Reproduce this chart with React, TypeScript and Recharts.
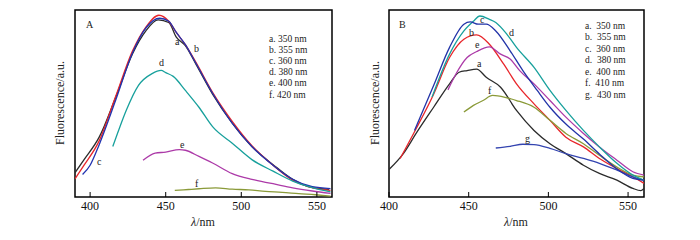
import { LineChart, Line, XAxis, YAxis, ReferenceArea } from "recharts";

// excitation wavelengths (legend)
const legendA = ["a. 350 nm", "b. 355 nm", "c. 360 nm", "d. 380 nm", "e. 400 nm", "f. 420 nm"];
const legendB = ["a.  350 nm", "b.  355 nm", "c.  360 nm", "d.  380 nm", "e.  400 nm", "f.  410 nm", "g.  430 nm"];
const ticks = [400, 450, 500, 550];

// panel A, emission wavelength (nm) and intensity (a.u.)
const aA_nm = [390, 396, 406, 417, 428, 437, 445, 452, 457, 463, 470, 481, 494, 507, 521, 534, 547, 558];
const aA_v = [13, 20, 32, 53.5, 76.5, 89, 94.7, 93.3, 85.5, 81, 71, 55, 39.5, 27, 17.3, 9.4, 5, 4.1];
const bA_nm = [390, 396, 406, 417, 428, 437, 445.5, 452, 457, 463, 470, 481, 494, 507, 521, 534, 547, 559];
const bA_v = [9.7, 17, 30, 54, 78, 91, 97.2, 94, 88, 81.5, 72, 56, 40.5, 27.5, 17, 9, 5, 3.5];
const cA_nm = [395, 400, 406, 417, 428, 437, 446, 452, 457, 463, 470, 481, 494, 507, 521, 534, 547, 559];
const cA_v = [12, 17, 28, 52, 77, 90.5, 95.6, 94, 88, 81.5, 71.5, 55.5, 39.5, 27, 17, 9.5, 5.5, 4.5];
const dA_nm = [415, 419, 424, 432, 441, 447, 450, 455, 463, 472, 481, 494, 507, 521, 534, 547, 559];
const dA_v = [27, 36, 46.5, 59.7, 66, 67.7, 66.5, 64.5, 57, 48, 37.6, 28.8, 20, 13.8, 8.5, 5, 2.7];
const eA_nm = [435, 443, 450, 459, 463, 472, 481, 494, 507, 521, 534, 547, 559];
const eA_v = [19.6, 23.5, 24, 25.3, 25, 21.7, 18.2, 12.5, 9.4, 7.1, 4.9, 3.2, 1.9];
const fA_nm = [456, 465, 472, 483, 494, 505, 516, 527, 538, 549, 559];
const fA_v = [3.5, 4, 4.4, 4.9, 4.2, 3.8, 3, 2.5, 1.8, 1.2, 0.5];

// panel B
const aB_nm = [400, 409, 417, 428, 438, 444, 449, 455, 461, 470, 480, 491, 501, 511, 522, 532, 543, 553, 558, 560];
const aB_v = [14.7, 23.2, 34, 48, 60.5, 66.7, 67.6, 68.4, 64, 58.7, 46.3, 35.6, 28.5, 23.2, 17, 12.6, 9, 4.6, 3.4, 4.5];
const bB_nm = [407, 417, 428, 438, 447, 455, 463, 472, 480, 491, 501, 511, 522, 532, 543, 553, 560];
const bB_v = [20.6, 36.5, 55, 74.6, 84.4, 86.7, 81.7, 71, 60.5, 49.8, 41, 32, 26.8, 20.6, 15.2, 10.8, 7.3];
const cB_nm = [416, 428, 438, 447, 451, 456, 461, 467, 476, 484, 493, 501, 511, 522, 532, 543, 553, 560];
const cB_v = [35.6, 59.6, 80, 92.4, 93.6, 92.4, 92.4, 88.8, 78.2, 67.6, 57, 48, 39, 31, 23, 15, 10, 9];
const dB_nm = [427, 438, 447, 453, 457, 463, 467, 474, 480, 491, 501, 511, 522, 532, 543, 553, 560];
const dB_v = [53.4, 76.4, 88.8, 94, 96.8, 95, 93.3, 87, 80, 69.3, 57, 46.3, 35.6, 26.8, 18, 11.7, 9];
const eB_nm = [437, 442, 449, 455, 463, 470, 476, 482, 491, 501, 511, 522, 532, 543, 553, 560];
const eB_v = [57.3, 65.8, 74.6, 77.8, 80.3, 76.4, 73.8, 67.6, 60.5, 51.6, 42.7, 34, 26.8, 19.7, 13.5, 11.7];
const fB_nm = [447, 453, 459, 465, 474, 480, 491, 501, 511, 522, 532, 543, 553, 560];
const fB_v = [45.4, 49, 51.6, 54.3, 53, 51.6, 48, 41, 34, 28.5, 22.3, 16, 11.7, 10.8];
const gB_nm = [467, 476, 484, 491, 501, 511, 522, 532, 543, 553, 560];
const gB_v = [26.2, 27.1, 28.2, 28, 26, 23.2, 20.6, 18, 14.4, 10.8, 9];

const zip = (nm: number[], v: number[]) => nm.map((x, i) => ({ nm: x, v: v[i] }));

const serif = "Liberation Serif, DejaVu Serif, serif";

const seriesA = [
  { id: "a", data: zip(aA_nm, aA_v), color: "#2b2b2b" },
  { id: "b", data: zip(bA_nm, bA_v), color: "#e8262b" },
  { id: "c", data: zip(cA_nm, cA_v), color: "#2233b0" },
  { id: "d", data: zip(dA_nm, dA_v), color: "#17a09c" },
  { id: "e", data: zip(eA_nm, eA_v), color: "#ac3aa8" },
  { id: "f", data: zip(fA_nm, fA_v), color: "#8a9a38" },
];
const seriesB = [
  { id: "a", data: zip(aB_nm, aB_v), color: "#2b2b2b" },
  { id: "b", data: zip(bB_nm, bB_v), color: "#e8262b" },
  { id: "f", data: zip(fB_nm, fB_v), color: "#8a9a38" },
  { id: "g", data: zip(gB_nm, gB_v), color: "#3344b0" },
  { id: "e", data: zip(eB_nm, eB_v), color: "#ac3aa8" },
  { id: "d", data: zip(dB_nm, dB_v), color: "#17a09c" },
  { id: "c", data: zip(cB_nm, cB_v), color: "#2233a8" },
];

// tick label plus a short inward tick mark
function InTick(props: any) {
  const { x, y, payload } = props;
  return (
    <g>
      <line x1={x} y1={y - 4} x2={x} y2={y - 9} stroke="#000" strokeWidth={1} />
      <text x={x} y={y} dy="0.71em" textAnchor="middle" fontSize={12} fontFamily={serif} fill="#111">
        {payload.value}
      </text>
    </g>
  );
}

function Panel({ series, domain, margin }: any) {
  return (
    <LineChart width={350} height={240} margin={margin}>
      <XAxis
        dataKey="nm"
        type="number"
        domain={domain}
        ticks={ticks}
        allowDataOverflow
        height={30}
        axisLine={false}
        tickLine={false}
        tickSize={0}
        tickMargin={4}
        tick={<InTick />}
      />
      <YAxis yAxisId="l" domain={[0, 100]} width={0} hide />
      <ReferenceArea
        yAxisId="l"
        x1={domain[0]}
        x2={domain[1]}
        y1={0}
        y2={100}
        fill="none"
        stroke="#000"
        strokeWidth={1.5}
        ifOverflow="visible"
      />
      {series.map((s: any) => (
        <Line
          key={s.id}
          yAxisId="l"
          data={s.data}
          dataKey="v"
          type="monotone"
          stroke={s.color}
          strokeWidth={1.3}
          dot={false}
          isAnimationActive={false}
        />
      ))}
    </LineChart>
  );
}

const txt = { fontFamily: serif, fill: "#222" };

export default function App() {
  return (
    <div style={{ position: "absolute", left: 0, top: 0, width: 700, height: 240, background: "#fff" }}>
      <div style={{ position: "absolute", left: 0, top: 0 }}>
        <Panel series={seriesA} domain={[390, 560]} margin={{ top: 10, right: 18, left: 75, bottom: 13 }} />
      </div>
      <div style={{ position: "absolute", left: 350, top: 0 }}>
        <Panel series={seriesB} domain={[400, 560]} margin={{ top: 10, right: 56, left: 39, bottom: 13 }} />
      </div>
      <svg width={700} height={240} style={{ position: "absolute", left: 0, top: 0, pointerEvents: "none" }}>
        {/* axis titles */}
        <text x={64} y={103} transform="rotate(-90 64 103)" textAnchor="middle" fontSize={12} {...txt}>Fluorescence/a.u.</text>
        <text x={379} y={103} transform="rotate(-90 379 103)" textAnchor="middle" fontSize={12} {...txt}>Fluorescence/a.u.</text>
        <text x={203} y={226} textAnchor="middle" fontSize={12} {...txt}><tspan fontStyle="italic">λ</tspan>/nm</text>
        <text x={516} y={226} textAnchor="middle" fontSize={12} {...txt}><tspan fontStyle="italic">λ</tspan>/nm</text>
        {/* panel letters */}
        <text x={86} y={28} fontSize={10} {...txt}>A</text>
        <text x={399} y={28} fontSize={10} {...txt}>B</text>
        {/* legends */}
        {legendA.map((t, i) => (
          <text key={t} x={269} y={42 + i * 11.1} fontSize={9.5} {...txt}>{t}</text>
        ))}
        {legendB.map((t, i) => (
          <text key={t} x={585} y={28.5 + i * 11.5} fontSize={9.5} {...txt} style={{ whiteSpace: "pre" }}>{t}</text>
        ))}
        {/* curve labels A */}
        <text x={175} y={45} fontSize={10} {...txt}>a</text>
        <text x={194} y={52} fontSize={10} {...txt}>b</text>
        <text x={97} y={165} fontSize={10} {...txt}>c</text>
        <text x={159} y={66} fontSize={10} {...txt}>d</text>
        <text x={180} y={148} fontSize={10} {...txt}>e</text>
        <text x={195} y={187} fontSize={10} {...txt}>f</text>
        {/* curve labels B */}
        <text x={477} y={67} fontSize={10} {...txt}>a</text>
        <text x={469} y={36} fontSize={10} {...txt}>b</text>
        <text x={480} y={23} fontSize={10} {...txt}>c</text>
        <text x={509} y={36} fontSize={10} {...txt}>d</text>
        <text x={475} y={48} fontSize={10} {...txt}>e</text>
        <text x={488} y={94} fontSize={10} {...txt}>f</text>
        <text x={525} y={142} fontSize={10} {...txt}>g</text>
      </svg>
    </div>
  );
}
